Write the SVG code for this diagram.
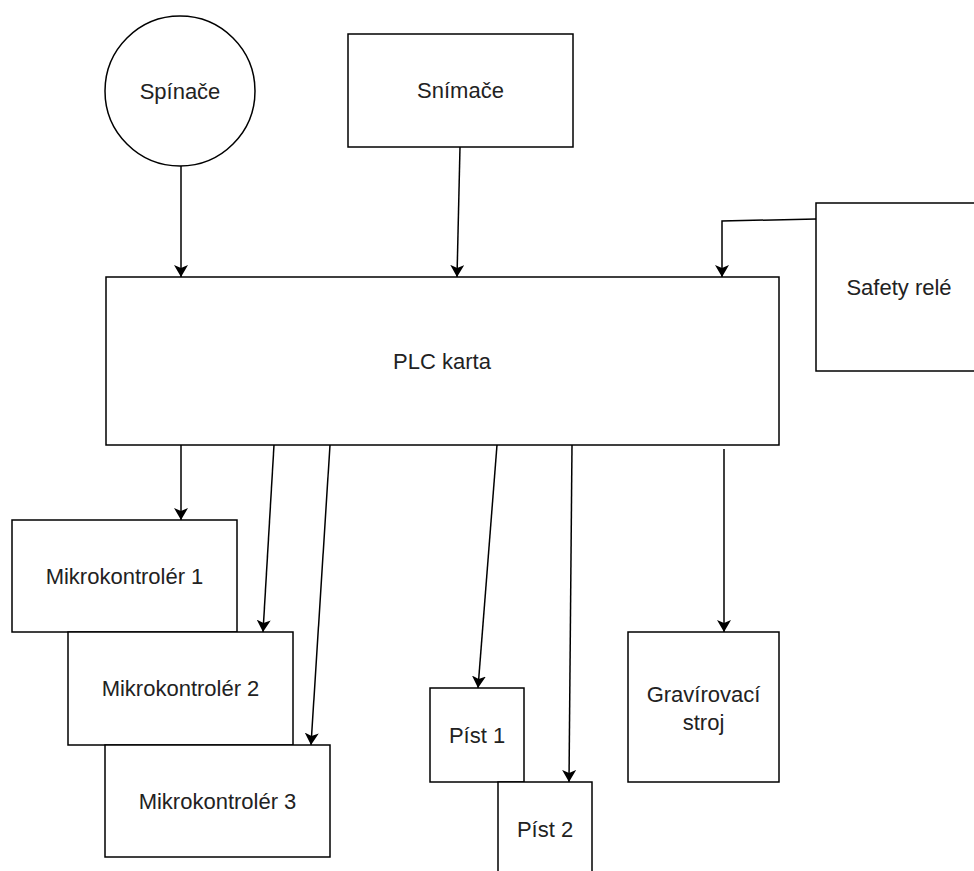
<svg xmlns="http://www.w3.org/2000/svg" width="974" height="871" viewBox="0 0 974 871">
<style>
.n{fill:#fff;stroke:#000;stroke-width:1.5}
.t{font-family:"Liberation Sans",Arial,sans-serif;font-size:22px;fill:#222;text-anchor:middle;dominant-baseline:central}
.c{fill:none;stroke:#000;stroke-width:1.5;marker-end:url(#ah)}
</style>
<defs>
<marker id="ah" viewBox="0 0 12 14" refX="12" refY="7" markerWidth="12" markerHeight="14" orient="auto" markerUnits="userSpaceOnUse">
<path d="M0,0 L12,7 L0,14 L3,7 z" fill="#000"/>
</marker>
</defs>
<rect width="974" height="871" fill="#fff"/>
<g id="spinace"><circle class="n" cx="180" cy="91" r="75"/><text class="t" x="180" y="91">Spínače</text></g>
<g id="snimace"><rect class="n" x="348" y="34" width="225" height="113"/><text class="t" x="460.5" y="90.5">Snímače</text></g>
<g id="plc"><rect class="n" x="106" y="277" width="673" height="168"/><text class="t" x="442" y="361">PLC karta</text></g>
<g id="safety"><rect class="n" x="816" y="203" width="166" height="168"/><text class="t" x="899" y="287">Safety relé</text></g>
<g id="mk1"><rect class="n" x="12" y="520" width="225" height="112"/><text class="t" x="124.5" y="576">Mikrokontrolér 1</text></g>
<g id="mk2"><rect class="n" x="68" y="632" width="225" height="113"/><text class="t" x="180.5" y="688.5">Mikrokontrolér 2</text></g>
<g id="mk3"><rect class="n" x="105" y="745" width="225" height="112"/><text class="t" x="217.5" y="801">Mikrokontrolér 3</text></g>
<g id="pist1"><rect class="n" x="430" y="688" width="94" height="94"/><text class="t" x="477" y="735">Píst 1</text></g>
<g id="pist2"><rect class="n" x="498" y="782" width="94" height="94"/><text class="t" x="545" y="829">Píst 2</text></g>
<g id="grav"><rect class="n" x="628" y="632" width="151" height="150"/><text class="t" x="703.5" y="694">Gravírovací</text><text class="t" x="703.5" y="722">stroj</text></g>
<g id="connectors">
<path class="c" d="M181,166 L181,277"/>
<path class="c" d="M460,147 L457,277"/>
<path class="c" d="M816,219 L722,221 L722,277"/>
<path class="c" d="M181,445 L181,520"/>
<path class="c" d="M274,445 L263,632"/>
<path class="c" d="M330,445 L311,745"/>
<path class="c" d="M497,445 L478,688"/>
<path class="c" d="M572,445 L569,782"/>
<path class="c" d="M724,449 L724,632"/>
</g>
</svg>
